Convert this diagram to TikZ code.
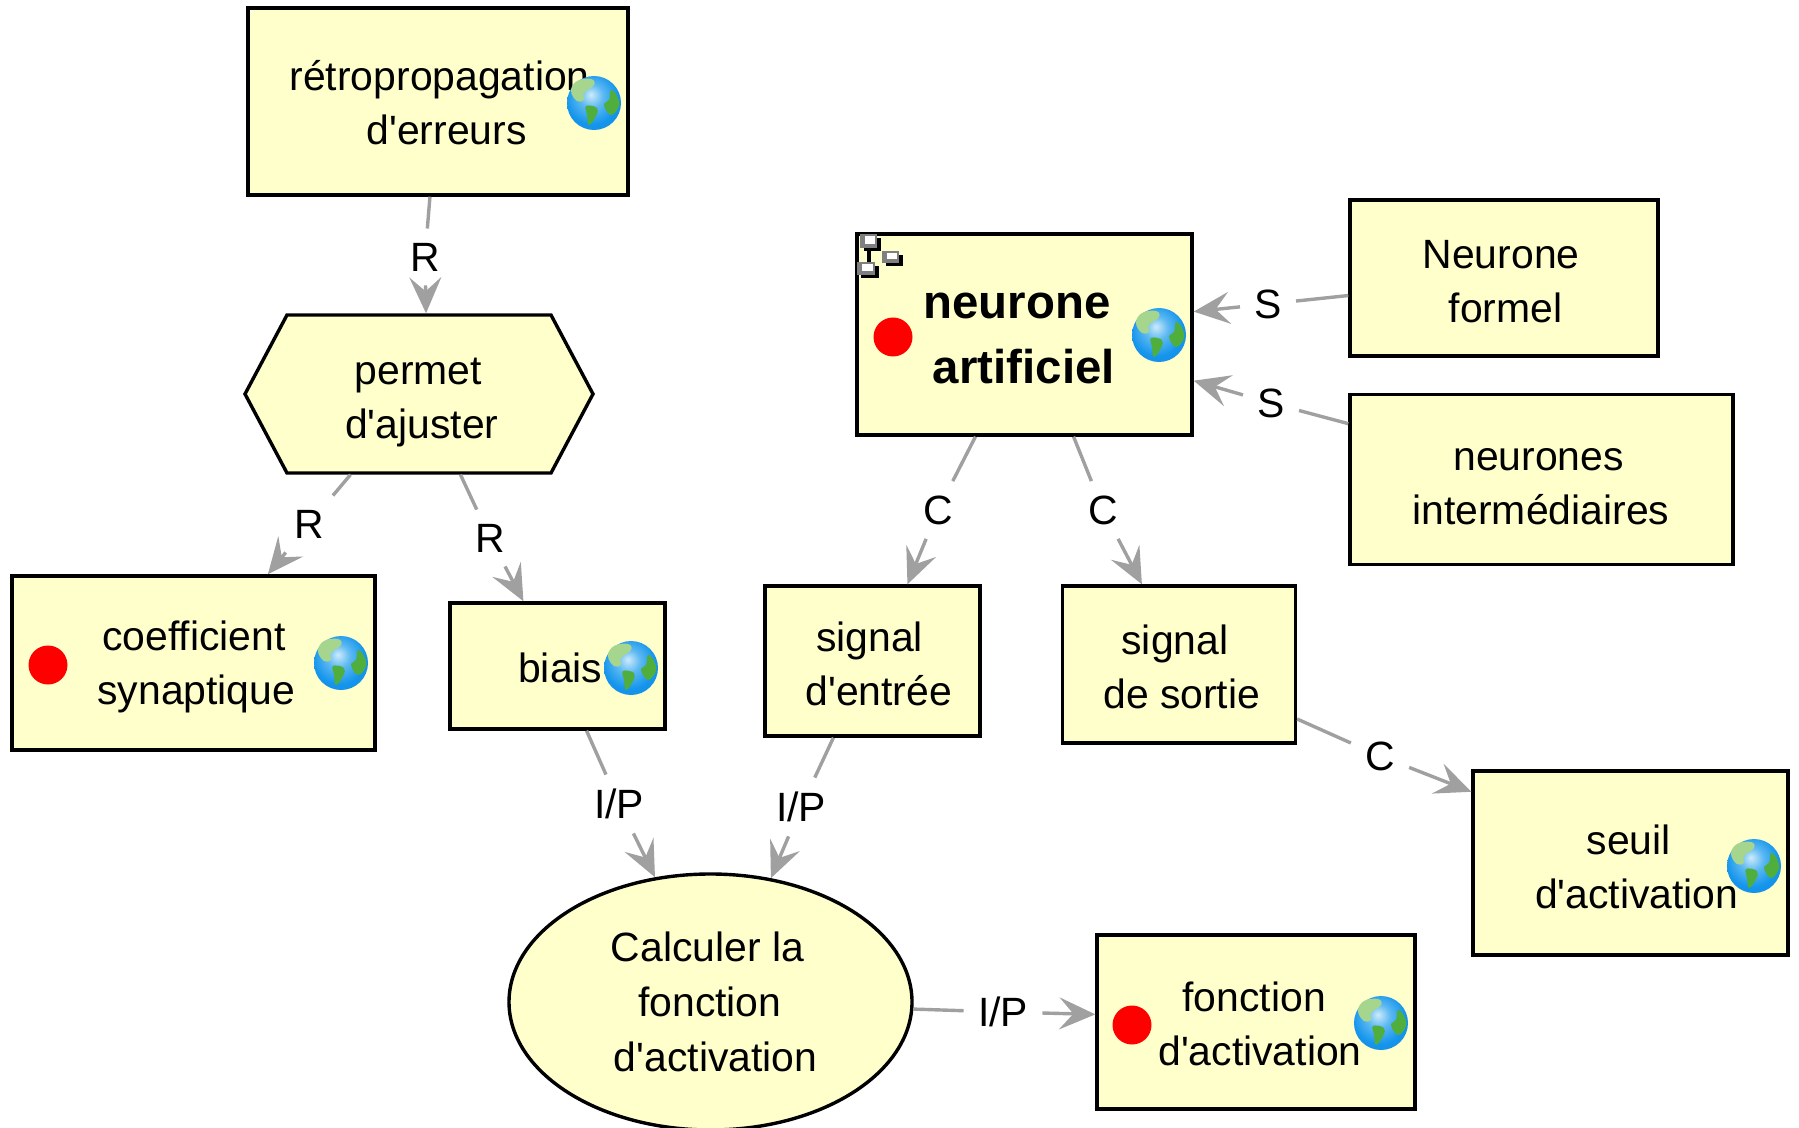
\documentclass[tikz,border=0pt]{standalone}
\usepackage{fontspec}
\setmainfont{Liberation Sans}[Ligatures=TeXOff]
\usetikzlibrary{shapes.geometric,arrows.meta,calc}
\definecolor{boxfill}{HTML}{FFFFCC}
\definecolor{linkgrey}{HTML}{A0A0A0}
\definecolor{gA}{HTML}{CDEBFA}
\definecolor{gB}{HTML}{5CB8F2}
\definecolor{gC}{HTML}{1595EC}
\definecolor{gD}{HTML}{1480DC}
\definecolor{gE}{HTML}{2F64B0}
\definecolor{landpale}{HTML}{A6D68E}
\definecolor{landgreen}{HTML}{4FAE3C}
\pgfdeclareradialshading{globeshade}{\pgfpoint{-3bp}{8bp}}{color(0bp)=(gA); color(11bp)=(gB); color(24bp)=(gC); color(48bp)=(gD); color(56bp)=(gE)}
\newcommand\ofs[1]{\hspace*{\dimexpr #1\dimexpr 1.147pt\relax+0.5pt\relax}}
\newcommand\tl[2]{\raisebox{\dimexpr #1+0.4pt\relax}[0pt][0pt]{\begin{tabular}{@{}c@{}}#2\end{tabular}}}
\tikzset{
  x=0.5pt,y=-0.5pt,
  basebox/.style={draw=black,fill=boxfill,line width=1.7pt,inner sep=0pt,font=\fontsize{20.45pt}{27pt}\selectfont},
  rectbox/.style={basebox,rectangle,minimum width=#1},
  roundbox/.style={basebox,ellipse,minimum width=201.5pt,minimum height=128pt},
  hexlabel/.style={basebox,draw=none,fill=none,rectangle,minimum width=174pt,minimum height=79pt},
  linklabel/.style={inner sep=7pt,font=\fontsize{20.45pt}{25pt}\selectfont},
  link/.style={draw=linkgrey,line width=1.7pt},
  arrowlink/.style={link,-{Stealth[length=18pt,width=16pt,inset=7pt]}},
  reddot/.style={circle,fill=red,draw=none,minimum size=19.5pt,inner sep=0pt},
  globe/.pic={
    \path[shading=globeshade] (0,0) circle[radius=13.5pt];
    \fill[landpale] plot[smooth cycle,tension=.7] coordinates {(-23,-12) (-17,-22) (-3,-24) (0,-18) (-10,-10) (-10,-3) (-17,-2)};
    \fill[landgreen] plot[smooth cycle,tension=.7] coordinates {(17,-13) (23,-7) (25,3) (17,12) (10,2) (15,-3)};
    \fill[landgreen] plot[smooth cycle,tension=.7] coordinates {(-8,3) (3,5) (2,13) (-5,22) (-7,12)};
  },
  treeicon/.pic={
    \fill[black] (16,16) rectangle (20,30);
    \foreach \xa/\ya/\wa/\ha in {9/2/17/14,31/19/17/12,6/30/18/13}{
      \fill[black] (\xa+4,\ya+4) rectangle (\xa+\wa+3.5,\ya+\ha+3.5);
      \fill[gray] (\xa,\ya) rectangle (\xa+\wa,\ya+\ha);
      \fill[white] (\xa+5,\ya+2.5) rectangle (\xa+\wa-2.5,\ya+\ha-4);
    };
  },
}
\begin{document}
\begin{tikzpicture}
\useasboundingbox (0,0) rectangle (1799,1128);
% hexagon outline
\filldraw[draw=black,fill=boxfill,line width=1.7pt,line join=miter] (245,394)--(287,315)--(551,315)--(593,394)--(551,473)--(287,473)--cycle;
% boxes
\node[hexlabel] (hx) at (419,394) {\tl{-8.8pt}{\ofs{-1}permet\\\ofs{2}d'ajuster}};
\node[rectbox=190pt,minimum height=93.5pt] (rp) at (438,101.5) {\tl{-8.3pt}{\ofs{1}rétropropagation\\\ofs{7}d'erreurs}};
\node[rectbox=167.5pt,minimum height=100.5pt,font=\fontsize{23.7pt}{32.5pt}\selectfont\bfseries] (ne) at (1024.5,334.5) {\tl{-8.6pt}{\ofs{-7}neurone\\\ofs{-1}artificiel}};
\node[rectbox=154pt,minimum height=78pt] (nf) at (1504,278) {\tl{-8.8pt}{\ofs{-3}Neurone\\\ofs{1}formel}};
\node[rectbox=191.5pt,minimum height=85pt] (ni) at (1541.5,479.5) {\tl{-9pt}{\ofs{-3}neurones\\\ofs{-1}intermédiaires}};
\node[rectbox=181.5pt,minimum height=87pt] (co) at (193.5,663) {\tl{-7.6pt}{\ofs{0}coefficient\\\ofs{2}synaptique}};
\node[rectbox=107.5pt,minimum height=63pt] (bi) at (557.5,666) {\tl{-8.2pt}{\ofs{2}biais}};
\node[rectbox=107.5pt,minimum height=75pt] (en) at (872.5,661) {\tl{-9pt}{\ofs{-3}signal\\\ofs{5}d'entrée}};
\node[rectbox=116.5pt,minimum height=78.5pt] (so) at (1179,664.5) {\tl{-8.8pt}{\ofs{-4}signal\\\ofs{2}de sortie}};
\node[rectbox=157.5pt,minimum height=92pt] (su) at (1630.5,863) {\tl{-9.3pt}{\ofs{-2}seuil\\\ofs{5}d'activation}};
\node[rectbox=159pt,minimum height=87pt] (fo) at (1256,1022) {\tl{-8.2pt}{\ofs{-2}fonction\\\ofs{3}d'activation}};
\node[roundbox] (ca) at (710.5,1002) {\fontsize{20.45pt}{27.5pt}\selectfont\tl{-7.4pt}{\ofs{-3}Calculer la\\\ofs{-1}fonction\\\ofs{4}d'activation}};
% labels
\node[linklabel] (l1) at (425,257) {R};
\node[linklabel] (l2) at (309,524) {R};
\node[linklabel] (l3) at (490,538) {R};
\node[linklabel] (l4) at (938,510) {C};
\node[linklabel] (l5) at (1103,510) {C};
\node[linklabel] (l6) at (1268,304) {S};
\node[linklabel] (l7) at (1271,403) {S};
\node[linklabel] (l8) at (1380,756) {C};
\node[linklabel] (l9) at (619,804) {I/P};
\node[linklabel] (l10) at (801,807) {I/P};
\node[linklabel] (l11) at (1003,1012) {I/P};
% connectors
\draw[link] ($(rp.south west)!.479!(rp.south east)$) -- (l1);
\draw[arrowlink] (l1) -- ($(hx.north west)!.52!(hx.north east)$);
\draw[link] ($(hx.south west)!.305!(hx.south east)$) -- (l2);
\draw[arrowlink] (l2) -- ($(co.north west)!.703!(co.north east)$);
\draw[link] ($(hx.south west)!.618!(hx.south east)$) -- (l3);
\draw[arrowlink] (l3) -- ($(bi.north west)!.344!(bi.north east)$);
\draw[link] ($(ne.south west)!.355!(ne.south east)$) -- (l4);
\draw[arrowlink] (l4) -- ($(en.north west)!.66!(en.north east)$);
\draw[link] ($(ne.south west)!.645!(ne.south east)$) -- (l5);
\draw[arrowlink] (l5) -- ($(so.north west)!.343!(so.north east)$);
\draw[link] ($(nf.north west)!.61!(nf.south west)$) -- (l6);
\draw[arrowlink] (l6) -- ($(ne.north east)!.388!(ne.south east)$);
\draw[link] ($(ni.north west)!.178!(ni.south west)$) -- (l7);
\draw[arrowlink] (l7) -- ($(ne.north east)!.726!(ne.south east)$);
\draw[link] ($(so.north east)!.84!(so.south east)$) -- (l8);
\draw[arrowlink] (l8) -- ($(su.north west)!.12!(su.south west)$);
\draw[link] ($(bi.south west)!.633!(bi.south east)$) -- (l9);
\draw[arrowlink] (l9) -- (ca.114.5);
\draw[link] ($(en.south west)!.321!(en.south east)$) -- (l10);
\draw[arrowlink] (l10) -- (ca.64.4);
\draw[link] (ca.-2) -- (l11);
\draw[arrowlink] (l11) -- ($(fo.north west)!.457!(fo.south west)$);
% icons
\pic at (594,103) {globe};
\pic at (1159,335) {globe};
\pic at (341,663) {globe};
\pic at (631,668) {globe};
\pic at (1754,866) {globe};
\pic at (1381,1023) {globe};
\node[reddot] (d1) at (893,337) {};
\node[reddot] (d2) at (48,665) {};
\node[reddot] (d3) at (1132,1025) {};
\pic at (851,232) {treeicon};
\end{tikzpicture}
\end{document}
